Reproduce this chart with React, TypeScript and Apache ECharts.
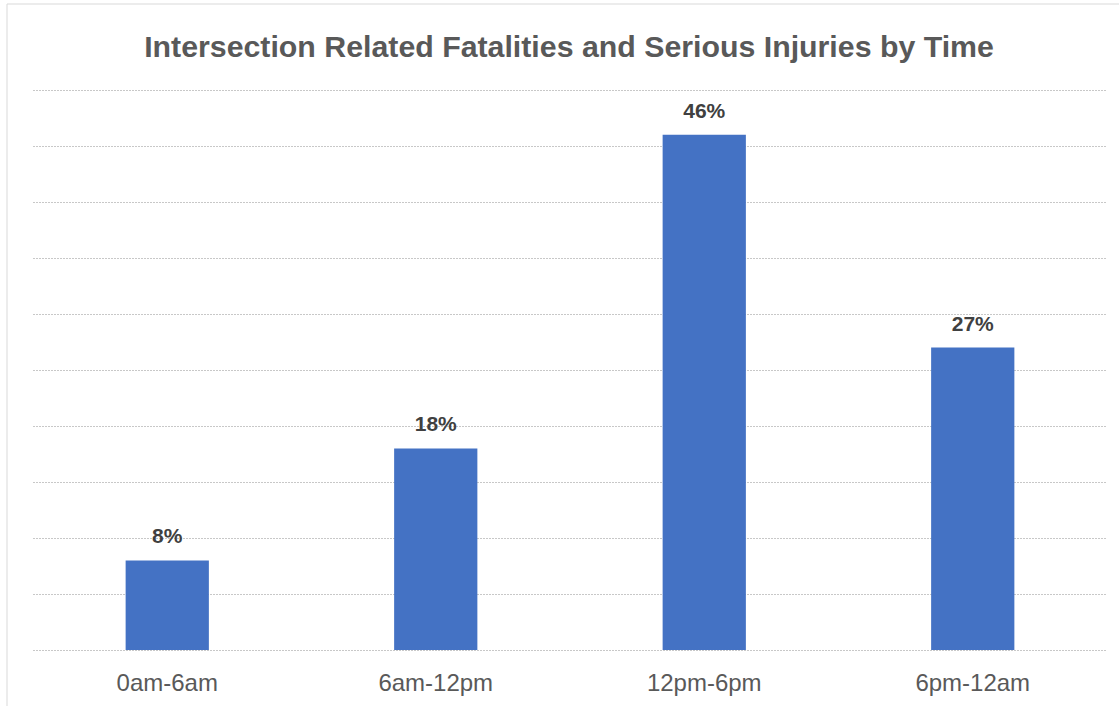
import React, { useEffect, useRef } from "react";
import * as echarts from "echarts";

const categories = ["0am-6am", "6am-12pm", "12pm-6pm", "6pm-12am"];
const values = [8, 18, 46, 27];
const title = "Intersection Related Fatalities and Serious Injuries by Time";

export default function App() {
  const ref = useRef<HTMLDivElement>(null);
  useEffect(() => {
    if (!ref.current) return;
    const chart = echarts.init(ref.current, null, { renderer: "svg" });
    chart.setOption({
      animation: false,
      backgroundColor: "#ffffff",
      title: {
        text: title,
        left: 564,
        textAlign: "center",
        top: 26,
        textStyle: {
          fontFamily: "Liberation Sans, Arial, sans-serif",
          fontSize: 30.3,
          fontWeight: "bold",
          color: "#595959",
        },
      },
      graphic: [
        {
          type: "rect",
          shape: { x: 7, y: 4, width: 1125, height: 720 },
          style: { fill: "none", stroke: "#d9d9d9", lineWidth: 1 },
          silent: true,
        },
      ],
      grid: { left: 33, right: 12, top: 90, bottom: 56 },
      xAxis: {
        type: "category",
        data: categories,
        axisLine: { show: false },
        axisTick: { show: false },
        axisLabel: {
          fontFamily: "Liberation Sans, Arial, sans-serif",
          fontSize: 24,
          color: "#595959",
          margin: 20,
        },
      },
      yAxis: {
        type: "value",
        min: 0,
        max: 50,
        interval: 5,
        axisLabel: { show: false },
        axisLine: { show: false },
        axisTick: { show: false },
        splitLine: {
          show: true,
          lineStyle: { color: "#c8c8c8", type: [2, 1], width: 1 },
        },
      },
      series: [
        {
          type: "bar",
          data: values,
          barWidth: "31%",
          itemStyle: { color: "#4472c4" },
          label: {
            show: true,
            position: "top",
            distance: 14,
            formatter: "{c}%",
            fontFamily: "Liberation Sans, Arial, sans-serif",
            fontSize: 21,
            fontWeight: "bold",
            color: "#404040",
          },
        },
      ],
    });
    return () => chart.dispose();
  }, []);
  return (
    <div
      ref={ref}
      style={{ position: "fixed", left: 0, top: 0, width: 1119, height: 706 }}
    />
  );
}
